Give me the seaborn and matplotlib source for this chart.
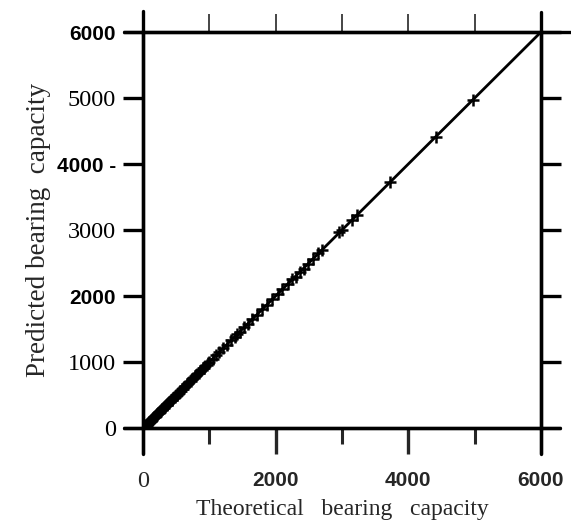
import matplotlib
matplotlib.use("Agg")
import matplotlib.pyplot as plt
import seaborn as sns
import pandas as pd
from matplotlib.lines import Line2D

# ---- data ----
theoretical = [5, 12, 18, 25, 32, 40, 48, 55, 62, 70, 78, 85, 92, 100, 108, 115,
               122, 130, 140, 150, 160, 170, 180, 190, 200, 210, 220, 230, 240, 250,
               260, 270, 280, 290, 300, 310, 320, 330, 342, 355, 368, 380, 392, 405,
               418, 430, 442, 455, 468, 480, 495, 510, 525, 540, 555, 570, 585, 600,
               620, 640, 660, 680, 700, 720, 740, 760, 780, 800, 820, 840, 860, 880,
               900, 920, 940, 960, 980, 1000, 1050, 1100, 1150, 1200, 1260, 1320,
               1380, 1420, 1460, 1520, 1580, 1650, 1720, 1800, 1870, 1950, 2030,
               2100, 2180, 2250, 2300, 2360, 2420, 2480, 2560, 2640, 2700, 2960,
               3000, 3150, 3230, 3720, 4410, 4970]
predicted = [7, 10, 20, 23, 35, 38, 50, 52, 65, 68, 80, 83, 95, 98, 110, 113,
             125, 128, 143, 147, 163, 167, 183, 187, 203, 207, 223, 227, 243, 247,
             263, 267, 283, 287, 303, 307, 323, 327, 345, 352, 371, 377, 395, 402,
             421, 427, 445, 452, 471, 477, 498, 507, 528, 537, 558, 567, 588, 597,
             624, 636, 664, 676, 704, 716, 744, 756, 784, 796, 824, 836, 864, 876,
             904, 916, 944, 956, 984, 1006, 1045, 1106, 1145, 1206, 1255, 1326,
             1375, 1426, 1455, 1526, 1575, 1656, 1715, 1806, 1865, 1956, 2025,
             2106, 2175, 2256, 2295, 2366, 2415, 2486, 2555, 2646, 2695, 2966,
             2995, 3156, 3225, 3725, 4405, 4975]
line_x = [0, 6000]
line_y = [0, 6000]

y_ticks = [0, 1000, 2000, 3000, 4000, 5000, 6000]
y_labels = ["0", "1000", "2000", "3000", "4000 -", "5000", "6000"]
y_bold = [False, False, True, False, True, False, True]
x_label_ticks = [0, 2000, 4000, 6000]
x_labels = ["0", "2000", "4000", "6000"]
x_bold = [False, True, True, True]
x_ticks_minor = [1000, 3000, 5000]

df = pd.DataFrame({"theoretical": theoretical, "predicted": predicted})
dline = pd.DataFrame({"x": line_x, "y": line_y})

sns.set_style("ticks")
plt.rcParams["font.family"] = ["Liberation Serif", "DejaVu Serif"]

W, H = 571, 529
X0, X1, Y0, Y1 = 143, 541, 428, 32
fig = plt.figure(figsize=(W / 100, H / 100), dpi=100)
ax = fig.add_axes([X0 / W, 1 - Y0 / H, (X1 - X0) / W, (Y0 - Y1) / H])

sns.lineplot(data=dline, x="x", y="y", ax=ax, color="black", linewidth=2.0)
sns.scatterplot(data=df, x="theoretical", y="predicted", ax=ax, marker="+",
                color="black", s=75, linewidth=1.8, zorder=3)

ax.set_xlim(0, 6000)
ax.set_ylim(0, 6000)

LW = 2.4
for sp in ax.spines.values():
    sp.set_linewidth(LW)
    sp.set_color("black")

def px_line(x0, y0, x1, y1, lw=LW):
    fig.add_artist(Line2D([x0 / W, x1 / W], [1 - y0 / H, 1 - y1 / H],
                          color="black", linewidth=lw, transform=fig.transFigure))

px_line(124, Y1, 571, Y1)    # top line extended
px_line(124, Y0, 560, Y0)    # bottom line extended
px_line(X0, 11, X0, 454)     # left spine extended
px_line(X1, 12, X1, 454)     # right spine extended

PT = 0.72  # points per pixel

# y ticks
ax.set_yticks(y_ticks)
ax.set_yticklabels(y_labels)
for lab, b in zip(ax.get_yticklabels(), y_bold):
    if b:
        lab.set_fontfamily("Liberation Sans")
        lab.set_fontweight("bold")
        lab.set_fontsize(15)
    else:
        lab.set_fontsize(17.5)
ax.tick_params(axis="y", direction="out", length=20 * PT, width=LW, pad=5,
               right=True, left=True, colors="black")
ax.tick_params(axis="y", labelright=False)

# x ticks
ax.set_xticks(x_label_ticks)
ax.set_xticklabels(x_labels)
for lab, b in zip(ax.get_xticklabels(), x_bold):
    if b:
        lab.set_fontfamily("Liberation Sans")
        lab.set_fontweight("bold")
        lab.set_fontsize(15)
    else:
        lab.set_fontsize(17.5)
ax.set_xticks(x_ticks_minor, minor=True)
ax.tick_params(axis="x", which="major", direction="out", length=26 * PT, width=LW,
               pad=12, top=False, bottom=True)
ax.tick_params(axis="x", which="minor", direction="out", length=16 * PT, width=2.2,
               top=False, bottom=True)

# thin top ticks
sec = ax.secondary_xaxis("top")
sec.set_xticks([1000, 2000, 3000, 4000, 5000])
sec.tick_params(direction="out", length=18 * PT, width=1.2, labeltop=False)
sec.spines["top"].set_visible(False)

ax.set_xlabel("Theoretical   bearing   capacity", fontsize=17, labelpad=5)
ax.set_ylabel("Predicted bearing  capacity", fontsize=19.5, labelpad=4)

fig.savefig("out.png", dpi=100)
